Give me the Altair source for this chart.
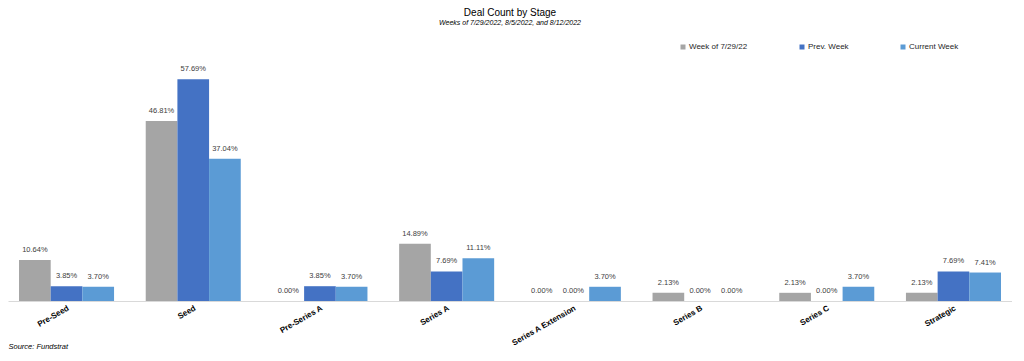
import altair as alt
import pandas as pd

categories = ["Pre-Seed", "Seed", "Pre-Series A", "Series A", "Series A Extension",
              "Series B", "Series C", "Strategic"]
series = ["Week of 7/29/22", "Prev. Week", "Current Week"]
week_0729 = [10.64, 46.81, 0.00, 14.89, 0.00, 2.13, 2.13, 2.13]
prev_week = [3.85, 57.69, 3.85, 7.69, 0.00, 0.00, 0.00, 7.69]
current_week = [3.70, 37.04, 3.70, 11.11, 3.70, 0.00, 3.70, 7.41]
colors = ["#a5a5a5", "#4472c4", "#5b9bd5"]

rows = []
for s, vals in zip(series, [week_0729, prev_week, current_week]):
    for c, v in zip(categories, vals):
        rows.append({"Stage": c, "Series": s, "Value": v / 100.0})
df = pd.DataFrame(rows)

FONT = "Liberation Sans"

base = alt.Chart(df).encode(
    x=alt.X("Stage:N", sort=categories,
            scale=alt.Scale(paddingInner=0.25, paddingOuter=0.087),
            axis=alt.Axis(title="Source: Fundstrat", labelAngle=-30, labelFontSize=8,
                          labelFontWeight="bold", labelColor="#000000", labelFont=FONT,
                          ticks=False, domainColor="#d9d9d9", labelPadding=3,
                          titleFont=FONT, titleFontSize=7.5, titleFontStyle="italic",
                          titleFontWeight="normal", titleColor="#000000",
                          titleAnchor="start", titleAlign="left", titleX=0, titleY=41)),
    xOffset=alt.XOffset("Series:N", sort=series, scale=alt.Scale(paddingInner=0, paddingOuter=0)),
    y=alt.Y("Value:Q", scale=alt.Scale(domain=[0, 0.70]), axis=None),
)

bars = base.mark_bar().encode(
    color=alt.Color("Series:N", sort=series,
                    scale=alt.Scale(domain=series, range=colors),
                    legend=alt.Legend(title=None, orient="none", direction="horizontal",
                                      legendX=671, legendY=11, symbolType="square",
                                      symbolSize=25, symbolStrokeWidth=0,
                                      labelFontSize=8, labelFont=FONT, labelColor="#262626",
                                      columnPadding=50, symbolOffset=0, labelOffset=2))
)

labels = base.mark_text(dy=-6, fontSize=7.5, font=FONT, color="#404040", baseline="bottom").encode(
    text=alt.Text("Value:Q", format=".2%")
)

chart = alt.layer(bars, labels).properties(
    width=1004, height=269,
    padding={"left": 0, "right": 0, "top": 0, "bottom": 0},
    title=alt.TitleParams("Deal Count by Stage", subtitle="Weeks of 7/29/2022, 8/5/2022, and 8/12/2022",
                          font=FONT, fontSize=10, fontWeight="normal", color="#000000",
                          subtitleFont=FONT, subtitleFontSize=7, subtitleFontStyle="italic",
                          subtitleColor="#000000", subtitlePadding=1, anchor="middle", offset=6)
).configure_view(stroke=None)

chart.save("out.html", embed_options={"renderer": "svg", "actions": False})
